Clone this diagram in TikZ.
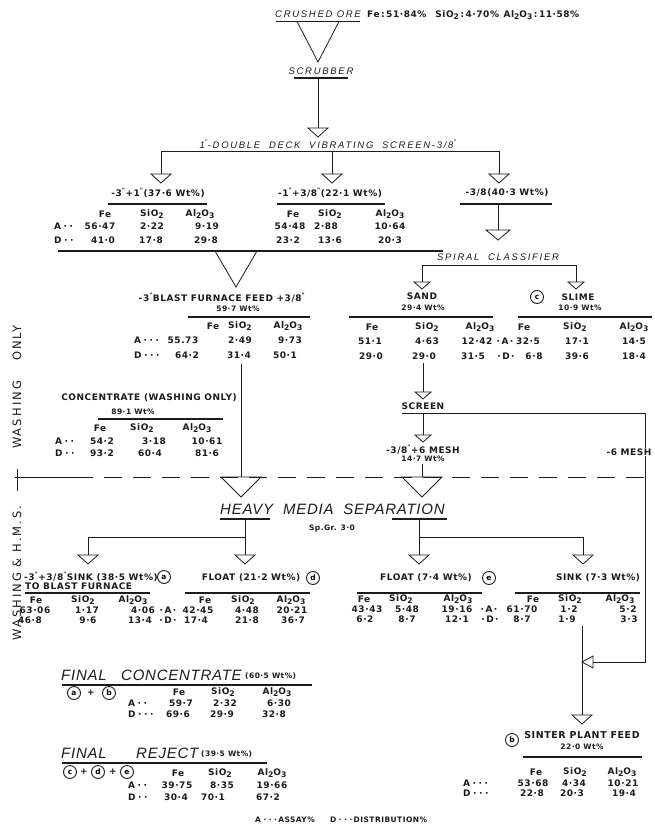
\documentclass[tikz,border=0pt]{standalone}
\usepackage{fontspec}
\setmainfont{DejaVu Sans}
\newfontfamily\valf[LetterSpace=6]{DejaVu Sans}
\newfontfamily\itf[LetterSpace=18]{Liberation Sans}
\newfontfamily\bigf[LetterSpace=5]{Liberation Sans}
\newfontfamily\sidef[LetterSpace=18]{DejaVu Sans}
\definecolor{inkc}{HTML}{1C1C1C}
\newcommand\dn[1]{\raisebox{-0.35ex}{\scalebox{0.85}{#1}}}
\newcommand\inch{\textsuperscript{\char"22}}
\newcommand\SiOt{SiO\dn{2}}
\newcommand\AlOt{Al\dn{2}O\dn{3}}
\newcommand\dotsep{\hspace{2.5pt}·}
% one row of a table: name prefix, row height, list of x/text
\newcommand\tabrow[3]{\foreach[count=\i] \cx/\ct in {#3}{\node[val] (#1-\i) at (\cx,#2) {\ct};}}
\begin{document}
\begin{tikzpicture}[x=1pt,y=-1pt,
  val/.style={inner sep=0pt, text=inkc, font=\valf\bfseries\fontsize{9}{10}\selectfont},
  lab/.style={inner sep=0pt, text=inkc, font=\valf\bfseries\fontsize{9}{10}\selectfont},
  small/.style={inner sep=0pt, text=inkc, font=\valf\bfseries\fontsize{7.5}{8}\selectfont},
  ttl/.style={inner sep=0pt, text=inkc, font=\itf\itshape\fontsize{9.5}{10}\selectfont},
  bigt/.style={inner sep=0pt, text=inkc, font=\bigf\itshape\fontsize{15}{17}\selectfont},
  side/.style={inner sep=0pt, text=inkc, font=\sidef\fontsize{11.5}{13}\selectfont, rotate=90},
  circ/.style={circle, draw=inkc, line width=0.9pt, inner sep=0pt, minimum size=13pt,
    font=\valf\bfseries\fontsize{7.5}{7.5}\selectfont},
  ink/.style={draw=inkc, line width=0.8pt},
  rule/.style={draw=inkc, line width=1.1pt},
  tri/.pic={\draw[ink] (-10,0) -- (10,0) -- (0,9) -- cycle;},
  tris/.pic={\draw[ink] (-8,0) -- (8,0) -- (0,7) -- cycle;},
  trib/.pic={\draw[ink] (-12,0) -- (12,0) -- (0,10) -- cycle;},
  trih/.pic={\draw[ink] (-20,0) -- (20,0) -- (0,20) -- cycle;},
]
\useasboundingbox[fill=white] (0,0) rectangle (654,829);

% ---------------- feed and scrubber ----------------
\node[ttl] (ore) at (318,14) {CRUSHED ORE};
\draw[rule] (276,21.5) -- (360,21.5);
\node[lab,anchor=west] (orea) at (367,15) {Fe\,:\,51·84\%\quad \SiOt\,:\,4·70\%\enspace \AlOt\,:\,11·58\%};
\coordinate (vl) at (297,21.5); \coordinate (vr) at (339,21.5); \coordinate (va) at (318,62);
\draw[ink] (vl) -- (va) -- (vr);
\node[ttl] (scrub) at (321,71.5) {SCRUBBER};
\draw[rule] (294,78) -- (348,78);
\coordinate (scrubb) at (318,78); \coordinate (t0) at (318,128);
\draw[ink] (scrubb) -- (t0); \pic at (t0) {tri};

% ---------------- double deck screen ----------------
\node[ttl] (dds) at (328,144.5) {1\inch-DOUBLE\ \ DECK\ \ VIBRATING\ \ SCREEN-3/8\inch};
\coordinate (j1) at (161,151.5); \coordinate (j2) at (332,151.5); \coordinate (j3) at (499,151.5);
\coordinate (t1) at (161,174); \coordinate (t2) at (332,174); \coordinate (t3) at (499,174);
\draw[ink] (t1) |- (j2) -| (t3); \draw[ink] (j2) -- (t2);
\pic at (t1) {tri}; \pic at (t2) {tri}; \pic at (t3) {tri};

\node[lab] (p1) at (158,193) {-3\inch+1\inch(37·6 Wt\%)};
\draw[rule] (108,204) -- (207,204);
\node[lab] (p2) at (330,193) {-1\inch+3/8\inch(22·1 Wt\%)};
\draw[rule] (277,204) -- (385,204);
\node[lab] (p3) at (507,193) {-3/8(40·3 Wt\%)};
\draw[rule] (460,204) -- (552,204);

\tabrow{ha}{214}{105/Fe, 152/\SiOt, 200/\AlOt}
\node[val,anchor=west] (ra) at (54,226) {A\dotsep\dotsep};
\tabrow{aa}{226}{100/56·47, 152/2·22, 207/9·19}
\node[val,anchor=west] (rd) at (54,240) {D\dotsep\dotsep};
\tabrow{da}{240}{103/41·0, 151/17·8, 206/29·8}
\tabrow{hb}{214}{293/Fe, 330/\SiOt, 390/\AlOt}
\tabrow{ab}{226}{290/54·48, 326/2·88, 390/10·64}
\tabrow{db}{240}{288/23·2, 330/13·6, 390/20·3}
\draw[rule] (58,251) -- (443,251);
\coordinate (bvl) at (215,251); \coordinate (bvr) at (257,251); \coordinate (bva) at (236,287);
\draw[ink] (bvl) -- (bva) -- (bvr);

% ---------------- blast furnace feed ----------------
\node[lab] (bf) at (222,298) {-3\inch BLAST\ FURNACE\ FEED +3/8\inch};
\node[small] (bfw) at (238,309) {59·7 Wt\%};
\draw[rule] (188,317) -- (310,317);
\tabrow{hc}{326}{213/Fe, 240/\SiOt, 288/\AlOt}
\node[val,anchor=west] (rc1) at (134,340) {A\dotsep\dotsep\dotsep};
\tabrow{ac}{340}{183/55.73, 240/2·49, 290/9·73}
\node[val,anchor=west] (rc2) at (134,355) {D\dotsep\dotsep\dotsep};
\tabrow{dc}{355}{187/64·2, 239/31·4, 285/50·1}
\coordinate (bfv) at (241,364); \coordinate (h1) at (241,477);
\draw[ink] (bfv) -- (h1);

% ---------------- concentrate (washing only) ----------------
\node[lab] (conc) at (149,398) {CONCENTRATE (WASHING ONLY)};
\node[small] (concw) at (133,412) {89·1 Wt\%};
\draw[rule] (98,419) -- (223,419);
\tabrow{hd}{428}{100/Fe, 142/\SiOt, 197/\AlOt}
\node[val,anchor=west] (rd1) at (55,441) {A\dotsep\dotsep};
\tabrow{ad}{441}{102/54·2, 154/3·18, 207/10·61}
\node[val,anchor=west] (rd2) at (55,453) {D\dotsep\dotsep};
\tabrow{dd}{453}{102/93·2, 150/60·4, 207/81·6}

% ---------------- spiral classifier ----------------
\coordinate (p3b) at (498,204); \coordinate (t4) at (498,230);
\draw[ink] (p3b) -- (t4); \pic at (t4) {trib};
\node[ttl] (spc) at (498,257) {SPIRAL\ \ CLASSIFIER};
\coordinate (t5) at (422,282); \coordinate (j5) at (576,265); \coordinate (t6) at (576,282);
\draw[ink] (t5) |- (j5) -- (t6);
\pic at (t5) {tris}; \pic at (t6) {tris};
\node[lab] (sand) at (422,296) {SAND};
\node[small] (sandw) at (423,308) {29·4 Wt\%};
\draw[rule] (349,317) -- (493,317);
\node[circ] (cc) at (537,297) {c};
\node[lab] (slime) at (578,297) {SLIME};
\node[small] (slimew) at (580,308) {10·9 Wt\%};
\draw[rule] (518,317) -- (652,317);
\tabrow{he}{327}{372/Fe, 427/\SiOt, 480/\AlOt, 524/Fe, 575/\SiOt, 634/\AlOt}
\tabrow{ae}{341}{370/51·1, 427/4·63, 477/12·42, 505/·\,A\,·, 528/32·5, 577/17·1, 634/14·5}
\tabrow{de}{356}{371/29·0, 424/29·0, 473/31·5, 506/·\,D\,·, 534/6·8, 577/39·6, 634/18·4}

% ---------------- screen on sand ----------------
\coordinate (sv0) at (423,363); \coordinate (t7) at (423,392);
\draw[ink] (sv0) -- (t7); \pic at (t7) {tris};
\node[lab] (scrn) at (423,406) {SCREEN};
\coordinate (s1) at (402,413); \coordinate (s2) at (423,413); \coordinate (s3) at (645,413);
\coordinate (s4) at (645,662); \coordinate (ltb) at (593,662);
\draw[ink] (s1) -- (s3) -- (s4) -- (ltb);
\draw[ink] (593,656) -- (593,668) -- (582,662) -- cycle;
\coordinate (t8) at (423,435);
\draw[ink] (s2) -- (t8); \pic at (t8) {tris};
\node[lab] (m1) at (423,450) {-3/8\inch+6 MESH};
\node[small] (m1w) at (423,459) {14·7 Wt\%};
\coordinate (m1b) at (422,464); \coordinate (h2) at (422,477);
\draw[ink] (m1b) -- (h2);
\node[lab, fill=white, inner sep=1pt] (m2) at (629,452) {-6 MESH};

% ---------------- boundary between the two sections ----------------
\draw[ink] (15,477) -- (93,477);
\draw[ink, dash pattern=on 18pt off 11pt] (104,477) -- (654,477);
\node[side] (swo) at (17,387) {WASHING\hspace{20pt}ONLY};
\coordinate (bar1) at (17,469); \coordinate (bar2) at (17,491);
\draw[ink] (bar1) -- (bar2);
\node[side] (swh) at (17,573) {WASHING \& H.M.S.};

% ---------------- heavy media separation ----------------
\pic at (h1) {trih}; \pic at (h2) {trih};
\node[bigt, anchor=west] (hms) at (220,509) {HEAVY\ \ MEDIA\ \ SEPARATION};
\draw[rule] (220,519) -- (270,519); \draw[rule] (392,519) -- (447,519);
\node[small] (spgr) at (332,528) {Sp.Gr. 3·0};
\coordinate (k0) at (245,519); \coordinate (kj) at (245,537);
\coordinate (t9) at (88,555); \coordinate (t10) at (245,555);
\draw[ink] (k0) -- (t10); \draw[ink] (kj) -| (t9);
\pic at (t9) {tri}; \pic at (t10) {tri};
\coordinate (k2) at (419,519); \coordinate (kj2) at (419,537);
\coordinate (t11) at (419,555); \coordinate (t12) at (583,555);
\draw[ink] (k2) -- (t11); \draw[ink] (kj2) -| (t12);
\pic at (t11) {tri}; \pic at (t12) {tri};

\node[lab, anchor=west] (sa) at (24,577) {-3\inch+3/8\inch SINK (38·5 Wt\%)};
\node[circ] (ca) at (164,577) {a};
\node[lab, anchor=west] (sa2) at (25,586) {TO\ BLAST\ FURNACE};
\draw[rule] (25,593) -- (150,593);
\node[lab] (fd) at (251,578) {FLOAT (21·2 Wt\%)};
\node[circ] (cd) at (313,578) {d};
\draw[rule] (185,593) -- (310,593);
\tabrow{hf}{600}{36/Fe, 83/\SiOt, 133/\AlOt, 205/Fe, 243/\SiOt, 291/\AlOt}
\tabrow{af}{610}{35/63·06, 87/1·17, 143/4·06, 168/·\,A\,·, 198/42·45, 247/4·48, 292/20·21}
\tabrow{df}{620}{30/46·8, 88/9·6, 140/13·4, 168/·\,D\,·, 196/17·4, 247/21·8, 293/36·7}

\node[lab] (fe) at (426,578) {FLOAT (7·4 Wt\%)};
\node[circ] (ce) at (489,578) {e};
\node[lab] (sk) at (598,578) {SINK (7·3 Wt\%)};
\draw[rule] (357,593) -- (482,593); \draw[rule] (515,593) -- (640,593);
\tabrow{hg}{599}{364/Fe, 401/\SiOt, 458/\AlOt, 533/Fe, 570/\SiOt, 620/\AlOt}
\tabrow{ag}{609}{367/43·43, 407/5·48, 457/19·16, 489/·\,A\,·, 522/61·70, 569/1·2, 628/5·2}
\tabrow{dg}{619}{365/6·2, 407/8·7, 457/12·1, 490/·\,D\,·, 522/8·7, 567/1·9, 629/3·3}

% ---------------- sinter plant feed ----------------
\coordinate (q0) at (582,626); \coordinate (t13) at (582,715);
\draw[ink] (q0) -- (t13); \pic at (t13) {tri};
\node[circ] (cb) at (512,740) {b};
\node[lab, font=\valf\bfseries\fontsize{9.5}{10}\selectfont] (spf) at (582,735) {SINTER PLANT FEED};
\node[small] (spfw) at (582,747) {22·0 Wt\%};
\draw[rule] (523,757) -- (642,757);
\tabrow{hh}{772}{536/Fe, 575/\SiOt, 622/\AlOt}
\node[val,anchor=west] (rh1) at (463,783) {A\dotsep\dotsep\dotsep};
\tabrow{ah}{783}{533/53·68, 574/4·34, 623/10·21}
\node[val,anchor=west] (rh2) at (463,793) {D\dotsep\dotsep\dotsep};
\tabrow{dh}{793}{532/22·8, 572/20·3, 624/19·4}

% ---------------- final concentrate ----------------
\node[bigt, anchor=west] (fc1) at (61,675) {FINAL};
\node[bigt, anchor=west] (fc2) at (121,675) {CONCENTRATE};
\node[small, anchor=west] (fc3) at (245,676) {(60·5 Wt\%)};
\draw[draw=inkc, line width=1.5pt] (62,685) -- (312,685);
\node[circ] (fa) at (74,693) {a}; \node[lab] (fp1) at (91,693) {+}; \node[circ] (fb) at (109,693) {b};
\tabrow{hi}{692}{179/Fe, 223/\SiOt, 277/\AlOt}
\node[val,anchor=west] (ri1) at (128,703) {A\dotsep\dotsep};
\tabrow{ai}{703}{181/59·7, 225/2·32, 279/6·30}
\node[val,anchor=west] (ri2) at (128,714) {D\dotsep\dotsep\dotsep};
\tabrow{di}{714}{178/69·6, 222/29·9, 274/32·8}

% ---------------- final reject ----------------
\node[bigt, anchor=west] (fr1) at (61,753) {FINAL};
\node[bigt, anchor=west] (fr2) at (136,753) {REJECT};
\node[small, anchor=west] (fr3) at (201,754) {(39·5 Wt\%)};
\draw[draw=inkc, line width=1.5pt] (62,763) -- (267,763);
\node[circ] (rc) at (70,772) {c}; \node[lab] (rp1) at (84,772) {+};
\node[circ] (rdd) at (98,772) {d}; \node[lab] (rp2) at (113,772) {+};
\node[circ] (re) at (127,772) {e};
\tabrow{hj}{773}{178/Fe, 220/\SiOt, 272/\AlOt}
\node[val,anchor=west] (rj1) at (128,785) {A\dotsep\dotsep};
\tabrow{aj}{785}{177/39·75, 222/8·35, 272/19·66}
\node[val,anchor=west] (rj2) at (128,797) {D\dotsep\dotsep};
\tabrow{dj}{797}{176/30·4, 213/70·1, 268/67·2}

% ---------------- key ----------------
\node[small, anchor=west] (lgA) at (255,820) {A\dotsep\dotsep\dotsep\,ASSAY\%};
\node[small, anchor=west] (lgD) at (330,820) {D\dotsep\dotsep\dotsep\,DISTRIBUTION\%};
\end{tikzpicture}
\end{document}
